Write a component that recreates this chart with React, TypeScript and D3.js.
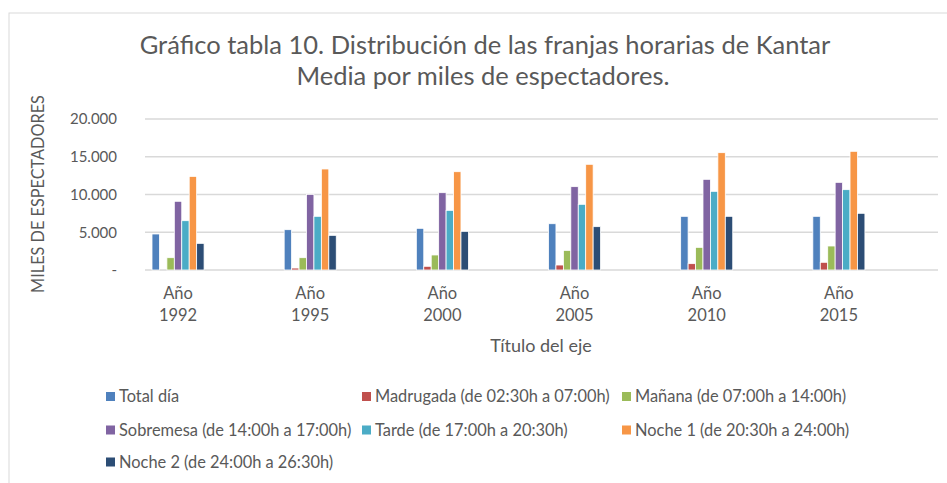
import React from 'react';
import * as d3 from 'd3';

const years = ['1992', '1995', '2000', '2005', '2010', '2015'];

const series = [
  'Total día',
  'Madrugada (de 02:30h a 07:00h)',
  'Mañana (de 07:00h a 14:00h)',
  'Sobremesa (de 14:00h a 17:00h)',
  'Tarde (de 17:00h a 20:30h)',
  'Noche 1 (de 20:30h a 24:00h)',
  'Noche 2 (de 24:00h a 26:30h)'
];

const colors = ['#4F81BD', '#C0504D', '#9BBB59', '#8064A2', '#4BACC6', '#F79646', '#2C4D75'];

// miles de espectadores, one array per franja, in the order of years
const totalDia = [4770, 5340, 5520, 6130, 7110, 7110];
const madrugada = [0, 260, 490, 660, 840, 1020];
const manana = [1630, 1630, 1990, 2600, 3000, 3180];
const sobremesa = [9100, 10020, 10240, 11040, 12010, 11610];
const tarde = [6530, 7110, 7900, 8700, 10420, 10640];
const noche1 = [12400, 13380, 13020, 14000, 15540, 15720];
const noche2 = [3530, 4590, 5120, 5740, 7110, 7510];

const values = [totalDia, madrugada, manana, sobremesa, tarde, noche1, noche2];

const yTicks = [0, 5000, 10000, 15000, 20000];

const font = 'Lato, "Open Sans", sans-serif';
const textColor = '#595959';

export default function App() {
  const width = 947;
  const height = 483;
  const plot = { left: 145, right: 938, top: 119, bottom: 270 };

  const x0 = d3.scaleBand().domain(years).range([plot.left, plot.right]);
  const bw = x0.bandwidth();
  const x1 = d3.scaleBand().domain(series).range([bw * 0.053, bw * 0.447]);
  const y = d3.scaleLinear().domain([0, 20000]).range([plot.bottom, plot.top]);

  const fmt = (v: number) => (v === 0 ? '-' : d3.format(',')(v).replace(/,/g, '.'));

  const legendCols = [106, 362, 622];
  const legendRows = [396.5, 430, 462];

  return (
    <svg width={width} height={height} style={{ position: 'absolute', left: 0, top: 0, background: '#fff' }}>
      <rect x={9} y={13} width={960} height={500} fill="#fff" stroke="#d9d9d9" strokeWidth={1} />

      <text x={485} y={54} textAnchor="middle" fontFamily={font} fontSize={25.5} fill={textColor}>
        Gráfico tabla 10. Distribución de las franjas horarias de Kantar
      </text>
      <text x={483} y={85} textAnchor="middle" fontFamily={font} fontSize={25.5} fill={textColor}>
        Media por miles de espectadores.
      </text>

      {yTicks.map(t => (
        <g key={t}>
          <line x1={plot.left} x2={plot.right} y1={y(t)} y2={y(t)} stroke="#d9d9d9" strokeWidth={1.3} />
          <text x={117} y={y(t)} dy="0.35em" textAnchor="end" fontFamily={font} fontSize={15} fill={textColor}>
            {fmt(t)}
          </text>
        </g>
      ))}

      <text
        transform={`translate(38,194) rotate(-90)`}
        textAnchor="middle"
        dy="0.35em"
        fontFamily={font}
        fontSize={16.3}
        fill={textColor}
      >
        MILES DE ESPECTADORES
      </text>

      {years.map((yr, i) => (
        <g key={yr} transform={`translate(${x0(yr)},0)`}>
          {series.map((s, j) => {
            const v = values[j][i];
            const top = y(v);
            return (
              <rect
                key={s}
                x={x1(s)}
                y={top}
                width={x1.bandwidth()}
                height={plot.bottom - top}
                fill={colors[j]}
                stroke="#fff"
                strokeWidth={0.8}
                opacity={v === 0 ? 0 : 1}
              />
            );
          })}
          <text x={bw * 0.25} y={293} dy="0.35em" textAnchor="middle" fontFamily={font} fontSize={16.5} fill={textColor}>
            Año
          </text>
          <text x={bw * 0.25} y={315} dy="0.35em" textAnchor="middle" fontFamily={font} fontSize={16.5} fill={textColor}>
            {yr}
          </text>
        </g>
      ))}

      <text x={541} y={346} dy="0.35em" textAnchor="middle" fontFamily={font} fontSize={18} fill={textColor}>
        Título del eje
      </text>

      {series.map((s, j) => {
        const cx = legendCols[j % 3];
        const cy = legendRows[Math.floor(j / 3)];
        return (
          <g key={s}>
            <rect x={cx} y={cy - 4.5} width={9} height={9} fill={colors[j]} />
            <text x={cx + 13} y={cy} dy="0.35em" fontFamily={font} fontSize={16.4} fill={textColor}>
              {s}
            </text>
          </g>
        );
      })}
    </svg>
  );
}
